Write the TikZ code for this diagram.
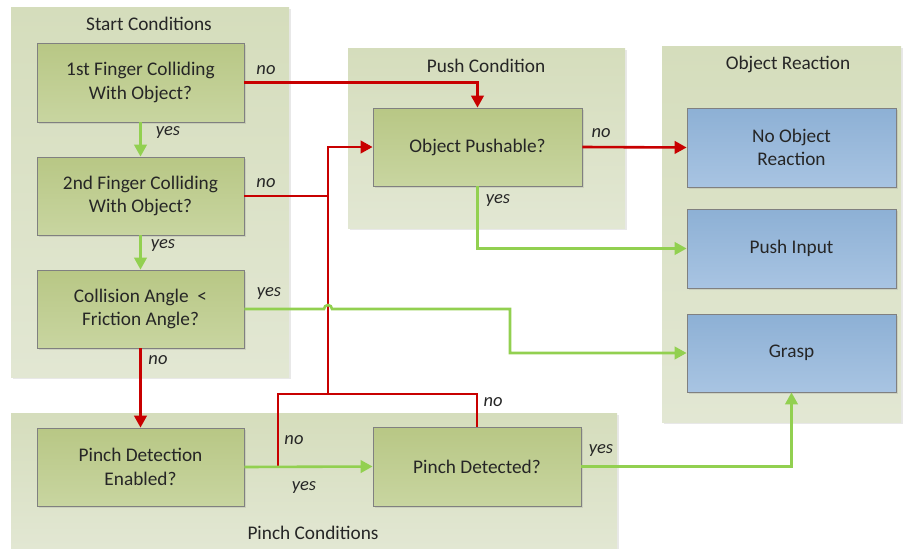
\documentclass[tikz,border=0pt]{standalone}
\usepackage{fontspec}
\setmainfont{Carlito}
\usetikzlibrary{arrows.meta,shadows}
\definecolor{panelTop}{RGB}{213,221,188}
\definecolor{panelBot}{RGB}{226,231,211}
\definecolor{boxTop}{RGB}{184,199,133}
\definecolor{boxBot}{RGB}{200,213,160}
\definecolor{blueTop}{RGB}{141,176,213}
\definecolor{blueBot}{RGB}{168,196,226}
\definecolor{edgeGray}{RGB}{128,128,128}
\definecolor{txt}{RGB}{38,38,38}
\definecolor{noRed}{RGB}{200,0,0}
\definecolor{yesGreen}{RGB}{146,208,80}
\begin{document}
\begin{tikzpicture}[x=1pt,y=-1pt,
  every node/.style={text=txt},
  panel/.style={draw=none, top color=panelTop, bottom color=panelBot, inner sep=0pt,
    drop shadow={shadow xshift=2pt, shadow yshift=-2pt, opacity=0.18}},
  title/.style={font=\fontsize{19.3}{23.5}\selectfont},
  decision/.style={draw=edgeGray, line width=0.8pt, top color=boxTop, bottom color=boxBot,
    align=center, font=\fontsize{19.3}{23.5}\selectfont, inner sep=0pt,
    drop shadow={shadow xshift=1.5pt, shadow yshift=-1.5pt, opacity=0.2}},
  reaction/.style={decision, top color=blueTop, bottom color=blueBot},
  tip/.style={-{Triangle[length=12pt,width=12.5pt]}},
  nopath/.style={draw=noRed, line width=2.6pt},
  yespath/.style={draw=yesGreen, line width=2.6pt},
  lbl/.style={font=\fontsize{18.5}{22}\itshape, inner sep=0pt}
]
\useasboundingbox (0,0) rectangle (903,549);

% group panels
\node[panel, minimum width=278pt, minimum height=370pt] (pStart)  at (150,192)   {};
\node[panel, minimum width=277pt, minimum height=180pt] (pPush)   at (486.5,138) {};
\node[panel, minimum width=239pt, minimum height=376pt] (pReact)  at (781.5,234) {};
\node[panel, minimum width=606pt, minimum height=136pt] (pPinch)  at (314,481)   {};

\node[title] (tStart) at (149,24)  {Start Conditions};
\node[title] (tPush)  at (486,66)  {Push Condition};
\node[title] (tReact) at (788,64)  {Object Reaction};
\node[title] (tPinch) at (313,533) {Pinch Conditions};

% decision boxes
\node[decision, minimum width=207pt, minimum height=79pt] (f1)  at (140.5,82.5) {1st Finger Colliding\\With Object?};
\node[decision, minimum width=207pt, minimum height=78pt] (f2)  at (140.5,196)  {2nd Finger Colliding\\With Object?};
\node[decision, minimum width=207pt, minimum height=78pt] (ang) at (140.5,309)  {Collision Angle~ <\\Friction Angle?};
\node[decision, minimum width=207pt, minimum height=78pt] (pde) at (140.5,467)  {Pinch Detection\\Enabled?};
\node[decision, minimum width=209pt, minimum height=78pt] (psh) at (477.5,147)  {Object Pushable?};
\node[decision, minimum width=208pt, minimum height=79pt] (pdt) at (477,466.5)  {Pinch Detected?};

% reactions
\node[reaction, minimum width=209pt, minimum height=79pt] (nor) at (791.5,147.5) {No Object\\Reaction};
\node[reaction, minimum width=209pt, minimum height=79pt] (pin) at (791.5,248.5) {Push Input};
\node[reaction, minimum width=209pt, minimum height=78pt] (gr)  at (791.5,353)   {Grasp};

% junction points of the "no" bus
\coordinate (busTop) at (328,147);
\coordinate (busBot) at (328,394);
\coordinate (pdeUp)  at (278,467);
\coordinate (hopL)   at (324,309);
\coordinate (bendG)  at (510,309);

% "no" connectors
\draw[nopath, tip] (f1.east) -| (psh.north);
\draw[nopath] (f2.east) -- (f2.east -| busTop);
\draw[nopath, tip] (busBot) -- (busTop) -- (psh.west);
\draw[nopath] (pdeUp) |- (pdt.north |- busBot) -- (pdt.north);
\draw[nopath, tip] (ang.south) -- (pde.north);
\draw[nopath, tip] (psh.east) -- (nor.west);

% "yes" connectors
\draw[yespath, tip] (f1.south) -- (f2.north);
\draw[yespath, tip] (f2.south) -- (ang.north);
\draw[yespath, tip] (ang.east) -- (hopL) arc (180:360:4) -- (bendG) |- (gr.west);
\draw[yespath, tip] (psh.south) |- (pin.west);
\draw[yespath, tip] (pde.east) -- (pdt.west);
\draw[yespath, tip] (pdt.east) -| (gr.south);

% branch labels
\node[lbl] (l1) at (266,70)  {no};
\node[lbl] (l2) at (266,183) {no};
\node[lbl] (l3) at (269,294) {yes};
\node[lbl] (l4) at (158,360) {no};
\node[lbl] (l5) at (168,133) {yes};
\node[lbl] (l6) at (163,246) {yes};
\node[lbl] (l7) at (294,440) {no};
\node[lbl] (l8) at (493,402) {no};
\node[lbl] (l9) at (304,488) {yes};
\node[lbl] (l10) at (498,201) {yes};
\node[lbl] (l11) at (601,133) {no};
\node[lbl] (l12) at (601,451) {yes};
\end{tikzpicture}
\end{document}
